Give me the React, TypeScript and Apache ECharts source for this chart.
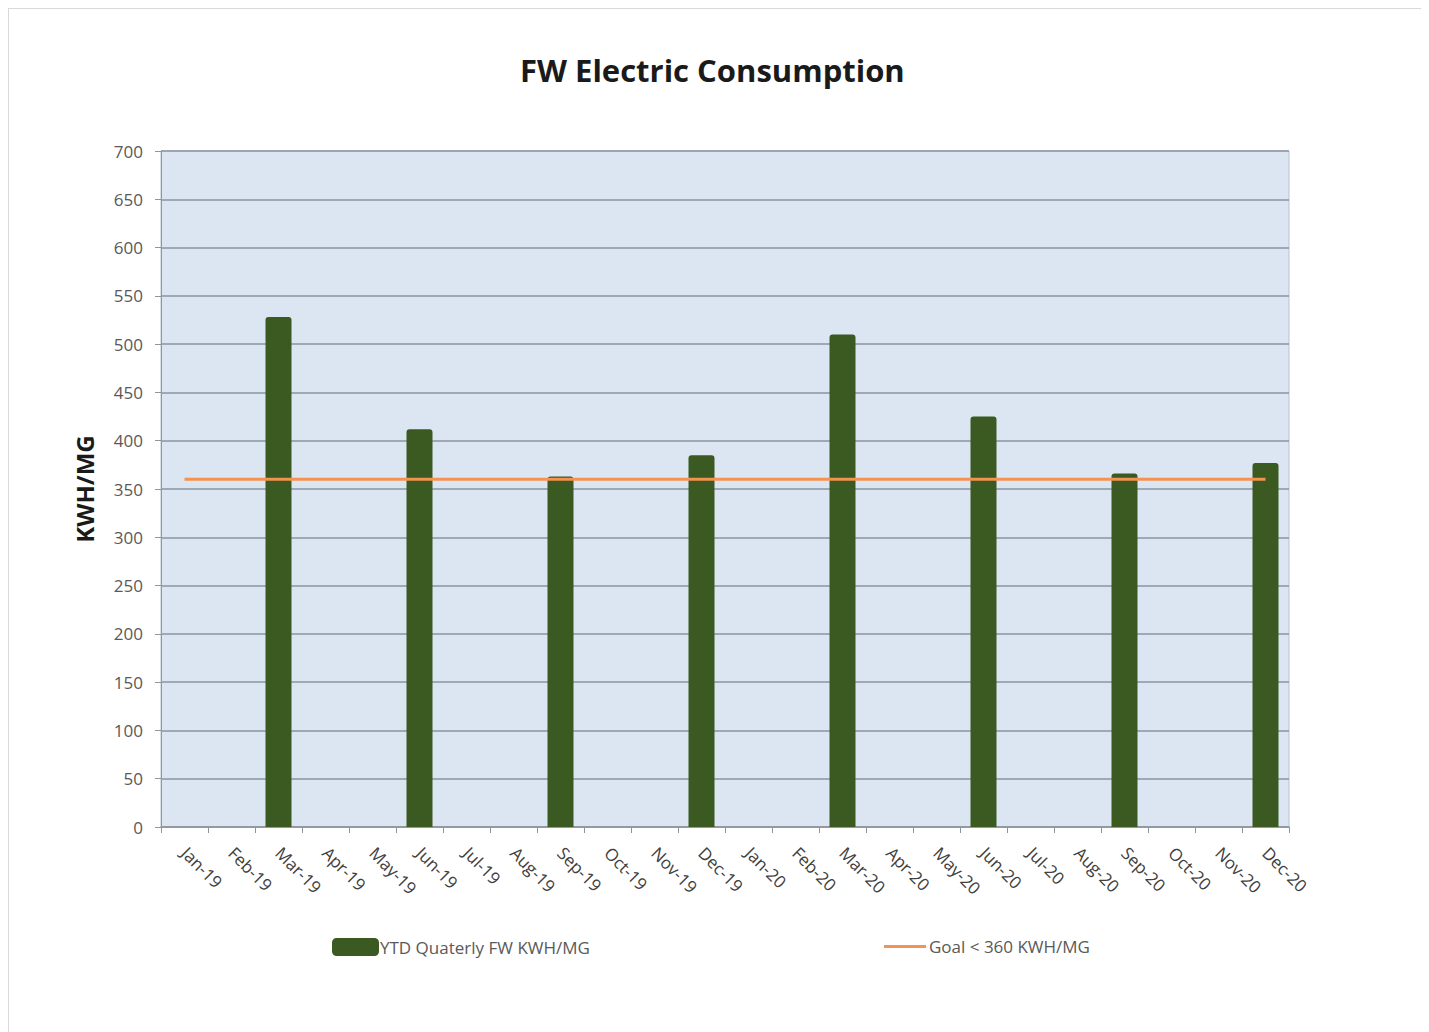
import React, { useEffect, useRef } from "react";
import * as echarts from "echarts";

const categories = [
  "Jan-19", "Feb-19", "Mar-19", "Apr-19", "May-19", "Jun-19",
  "Jul-19", "Aug-19", "Sep-19", "Oct-19", "Nov-19", "Dec-19",
  "Jan-20", "Feb-20", "Mar-20", "Apr-20", "May-20", "Jun-20",
  "Jul-20", "Aug-20", "Sep-20", "Oct-20", "Nov-20", "Dec-20",
];

// Quarterly YTD values, reported only at quarter ends
const ytdQuarterly: (number | null)[] = [
  null, null, 528, null, null, 412,
  null, null, 363, null, null, 385,
  null, null, 510, null, null, 425,
  null, null, 366, null, null, 377,
];

const goalValue = 360;
const goalLine = categories.map(() => goalValue);

const yTicks = { min: 0, max: 700, interval: 50 };

const BAR_NAME = "YTD Quaterly FW KWH/MG";
const GOAL_NAME = "Goal < 360 KWH/MG";

const FONT = "'Open Sans', 'Noto Sans', sans-serif";

export default function App() {
  const ref = useRef<HTMLDivElement>(null);

  useEffect(() => {
    if (!ref.current) return;
    const chart = echarts.init(ref.current, undefined, { renderer: "svg" });
    chart.setOption({
      animation: false,
      backgroundColor: "#ffffff",
      textStyle: { fontFamily: FONT },
      title: {
        text: "FW Electric Consumption",
        left: 506,
        top: 40,
        textStyle: { fontFamily: FONT, fontSize: 31, fontWeight: "bold", color: "#1a1a1a" },
      },
      legend: [
        {
          data: [BAR_NAME],
          left: 318,
          top: 924,
          itemWidth: 47,
          itemHeight: 18,
          itemGap: 0,
          textStyle: { fontFamily: FONT, fontSize: 17, color: "#595959", padding: [0, 0, 0, -4] },
        },
        {
          data: [GOAL_NAME],
          left: 870,
          top: 924,
          itemWidth: 42,
          itemHeight: 3,
          icon: "rect",
          textStyle: { fontFamily: FONT, fontSize: 17, color: "#595959", padding: [0, 0, 0, -2] },
        },
      ],
      grid: {
        left: 152,
        right: 135,
        top: 142,
        bottom: 210,
        show: true,
        backgroundColor: "#dce6f2",
        borderColor: "#b9c3cd",
        borderWidth: 1,
      },
      xAxis: {
        type: "category",
        data: categories,
        boundaryGap: true,
        axisLine: { lineStyle: { color: "#8e969e", width: 1.5 } },
        axisTick: { show: true, alignWithLabel: false, length: 6, lineStyle: { color: "#8e969e" } },
        axisLabel: {
          interval: 0,
          rotate: -45,
          fontSize: 17,
          color: "#404040",
          fontFamily: FONT,
          margin: 23,
        },
      },
      yAxis: {
        type: "value",
        min: yTicks.min,
        max: yTicks.max,
        interval: yTicks.interval,
        name: "KWH/MG",
        nameLocation: "middle",
        nameRotate: 90,
        nameGap: 65,
        nameTextStyle: { fontFamily: FONT, fontSize: 24, fontWeight: "bold", color: "#1a1a1a" },
        axisLine: { show: true, lineStyle: { color: "#8e969e" } },
        axisTick: { show: true, length: 6, lineStyle: { color: "#8e969e" } },
        axisLabel: { fontSize: 17, color: "#595959", fontFamily: FONT, margin: 18 },
        splitLine: { lineStyle: { color: "#8b95a0", width: 1.5 } },
      },
      series: [
        {
          name: BAR_NAME,
          type: "bar",
          data: ytdQuarterly,
          barWidth: 26,
          itemStyle: { color: "#3a5a21", borderRadius: [3, 3, 0, 0] },
          z: 2,
        },
        {
          name: GOAL_NAME,
          type: "line",
          data: goalLine,
          symbol: "none",
          lineStyle: { color: "#f4924f", width: 3 },
          itemStyle: { color: "#f4924f" },
          z: 3,
        },
      ],
    });
    return () => chart.dispose();
  }, []);

  return (
    <div
      ref={ref}
      style={{
        width: 1417,
        height: 1030,
        border: "1px solid #d9d9d9",
        boxSizing: "border-box",
      }}
    />
  );
}
